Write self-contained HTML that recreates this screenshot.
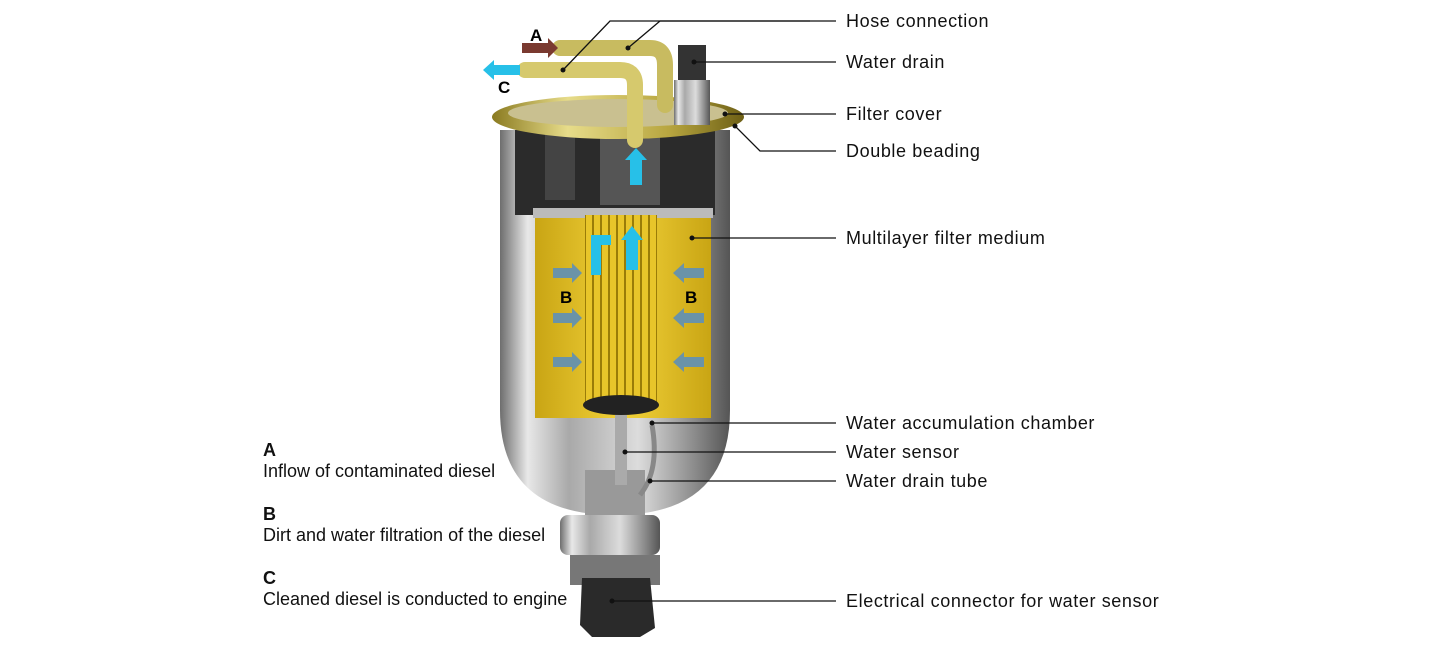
<!DOCTYPE html>
<html><head><meta charset="utf-8"><style>
html,body{margin:0;padding:0;background:#fff;}
body{width:1440px;height:655px;overflow:hidden;position:relative;font-family:"Liberation Sans",sans-serif;}
.l{position:absolute;left:846px;font-size:18px;color:#111;line-height:20px;white-space:nowrap;letter-spacing:0.6px;}
.g{position:absolute;left:263px;font-size:18px;color:#111;line-height:21px;}
.g b{display:block;}
</style></head><body>
<svg width="1440" height="655" style="position:absolute;left:0;top:0">
<defs>
<linearGradient id="sil" x1="0" x2="1">
<stop offset="0" stop-color="#6e6e6e"/><stop offset="0.12" stop-color="#e8e8e8"/><stop offset="0.3" stop-color="#a9a9a9"/><stop offset="0.6" stop-color="#dcdcdc"/><stop offset="0.85" stop-color="#8a8a8a"/><stop offset="1" stop-color="#555"/>
</linearGradient>
<linearGradient id="gold" x1="0" x2="1">
<stop offset="0" stop-color="#8a7a20"/><stop offset="0.3" stop-color="#e7dc8a"/><stop offset="0.7" stop-color="#b8a640"/><stop offset="1" stop-color="#6d5f15"/>
</linearGradient>
<linearGradient id="yel" x1="0" x2="1">
<stop offset="0" stop-color="#c9a514"/><stop offset="0.5" stop-color="#f2d23a"/><stop offset="1" stop-color="#c9a514"/>
</linearGradient>
<pattern id="pl" width="8" height="10" patternUnits="userSpaceOnUse"><rect width="8" height="10" fill="#e8c52a"/><rect width="2" height="10" fill="#9a7c08"/></pattern>
</defs>
<path d="M500,130 L730,130 L730,410 Q730,515 615,515 Q500,515 500,410 Z" fill="url(#sil)"/>
<rect x="585" y="470" width="60" height="50" fill="#999"/>
<rect x="560" y="515" width="100" height="40" rx="8" fill="url(#sil)"/>
<rect x="570" y="555" width="90" height="30" fill="#777"/>
<path d="M582,578 L650,578 L655,628 L640,637 L592,637 L580,625 Z" fill="#2a2a2a"/>
<rect x="515" y="130" width="200" height="85" fill="#2b2b2b"/>
<rect x="545" y="125" width="30" height="75" fill="#444"/>
<rect x="600" y="135" width="60" height="70" fill="#555"/>
<rect x="533" y="208" width="180" height="10" fill="#bbb"/>
<rect x="535" y="218" width="176" height="200" fill="url(#yel)"/>
<rect x="585" y="215" width="72" height="190" fill="url(#pl)"/>
<ellipse cx="621" cy="405" rx="38" ry="10" fill="#222"/>
<ellipse cx="618" cy="117" rx="126" ry="22" fill="url(#gold)"/>
<ellipse cx="618" cy="113" rx="110" ry="14" fill="#c9c090"/>
<path d="M560,48 L650,48 Q665,48 665,65 L665,105" stroke="#c8bb60" stroke-width="16" fill="none" stroke-linecap="round"/>
<path d="M525,70 L620,70 Q635,70 635,85 L635,140" stroke="#d6c96d" stroke-width="16" fill="none" stroke-linecap="round"/>
<rect x="678" y="45" width="28" height="40" fill="#333"/>
<rect x="674" y="80" width="36" height="45" fill="url(#sil)"/>
<rect x="615" y="415" width="12" height="70" fill="#aaa"/>
<path d="M652,425 Q660,470 640,495" stroke="#888" stroke-width="5" fill="none"/>
<path d="M522,43 L548,43 L548,38 L558,48 L548,58 L548,53 L522,53 Z" fill="#7a3a30"/>
<path d="M520,65 L494,65 L494,60 L483,70 L494,80 L494,75 L520,75 Z" fill="#27c0e8"/>
<path d="M630,185 L630,160 L625,160 L636,148 L647,160 L642,160 L642,185 Z" fill="#27c0e8"/>
<path d="M626,270 L626,240 L621,240 L632,226 L643,240 L638,240 L638,270 Z" fill="#27c0e8"/>
<path d="M596,275 L596,240 L611,240" stroke="#27c0e8" stroke-width="10" fill="none"/>
<g fill="#6a93a8">
<path d="M553,268 L572,268 L572,263 L582,273 L572,283 L572,278 L553,278 Z"/>
<path d="M553,313 L572,313 L572,308 L582,318 L572,328 L572,323 L553,323 Z"/>
<path d="M553,357 L572,357 L572,352 L582,362 L572,372 L572,367 L553,367 Z"/>
<path d="M704,268 L684,268 L684,263 L673,273 L684,283 L684,278 L704,278 Z"/>
<path d="M704,313 L684,313 L684,308 L673,318 L684,328 L684,323 L704,323 Z"/>
<path d="M704,357 L684,357 L684,352 L673,362 L684,372 L684,367 L704,367 Z"/>
</g>
<text x="530" y="41" font-family="Liberation Sans" font-weight="bold" font-size="17">A</text>
<text x="498" y="93" font-family="Liberation Sans" font-weight="bold" font-size="17">C</text>
<text x="560" y="303" font-family="Liberation Sans" font-weight="bold" font-size="17">B</text>
<text x="685" y="303" font-family="Liberation Sans" font-weight="bold" font-size="17">B</text>
<g stroke="#111" stroke-width="1.3" fill="none">
<path d="M836,21 L660,21 L628,48"/>
<path d="M810,21 L610,21 L563,70"/>
<path d="M836,62 L694,62"/>
<path d="M836,114 L725,114"/>
<path d="M836,151 L760,151 L735,126"/>
<path d="M836,238 L692,238"/>
<path d="M836,423 L652,423"/>
<path d="M836,452 L625,452"/>
<path d="M836,481 L650,481"/>
<path d="M836,601 L612,601"/>
</g>
<g fill="#111">
<circle cx="628" cy="48" r="2.5"/><circle cx="563" cy="70" r="2.5"/><circle cx="694" cy="62" r="2.5"/><circle cx="725" cy="114" r="2.5"/><circle cx="735" cy="126" r="2.5"/><circle cx="692" cy="238" r="2.5"/><circle cx="652" cy="423" r="2.5"/><circle cx="625" cy="452" r="2.5"/><circle cx="650" cy="481" r="2.5"/><circle cx="612" cy="601" r="2.5"/>
</g>
</svg>
<div class="l" style="top:11px">Hose connection</div>
<div class="l" style="top:52px">Water drain</div>
<div class="l" style="top:104px">Filter cover</div>
<div class="l" style="top:141px">Double beading</div>
<div class="l" style="top:228px">Multilayer filter medium</div>
<div class="l" style="top:413px">Water accumulation chamber</div>
<div class="l" style="top:442px">Water sensor</div>
<div class="l" style="top:471px">Water drain tube</div>
<div class="l" style="top:591px">Electrical connector for water sensor</div>
<div class="g" style="top:440px"><b>A</b>Inflow of contaminated diesel</div>
<div class="g" style="top:504px"><b>B</b>Dirt and water filtration of the diesel</div>
<div class="g" style="top:568px"><b>C</b>Cleaned diesel is conducted to engine</div>
</body></html>
